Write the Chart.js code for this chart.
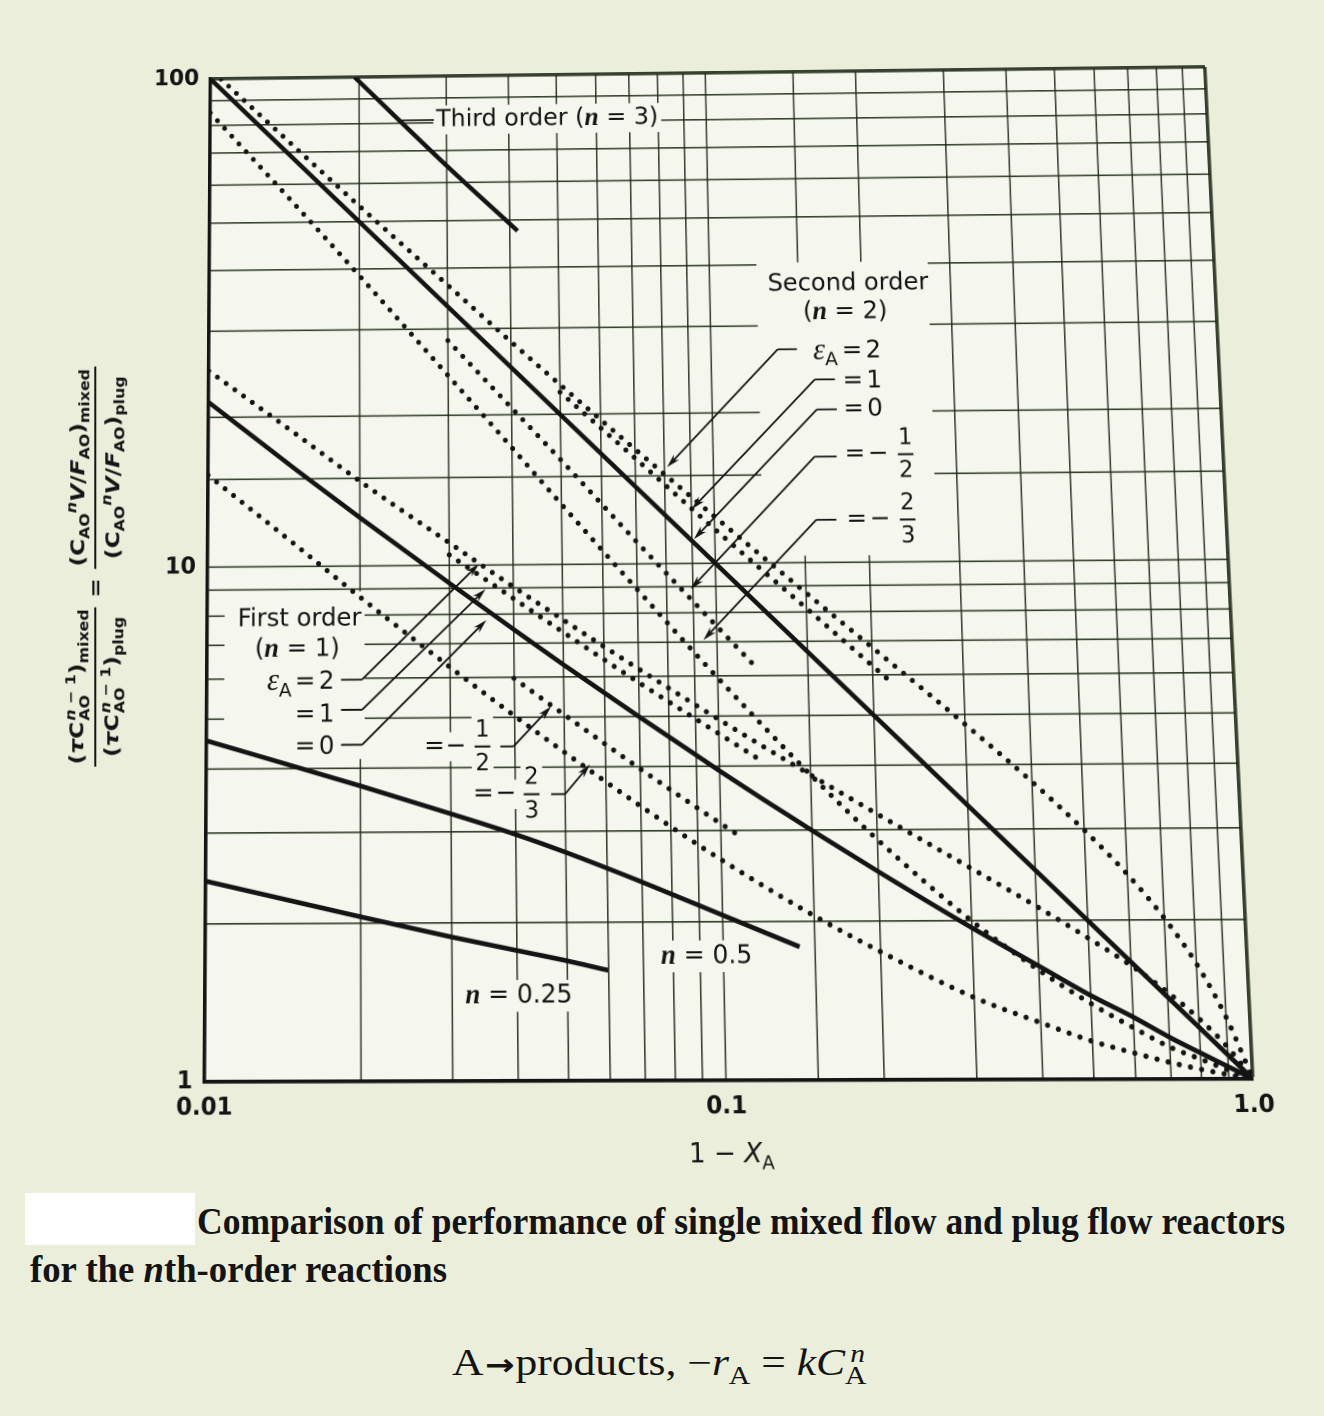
<!DOCTYPE html>
<html>
<head>
<meta charset="utf-8">
<script src="https://cdn.jsdelivr.net/npm/chart.js@4.4.1/dist/chart.umd.min.js"></script>
<style>
  html, body { margin: 0; padding: 0; }
  body { width: 1324px; height: 1416px; background: #eaeedb; position: relative; overflow: hidden; }
  #plot { position: absolute; left: 0; top: 0; transform-origin: 0 0; }
  #ytitle { position: absolute; white-space: nowrap;
            font: bold 20px "DejaVu Sans", "Liberation Sans", sans-serif; color: #141414;
            display: flex; align-items: center; gap: 8px; }
  .fr { display: inline-flex; flex-direction: column; align-items: center; }
  .nu { border-bottom: 2.5px solid #141414; padding: 0 2px 2px; }
  .de { padding: 2px 2px 0; }
  .ss { display: inline-flex; flex-direction: column; vertical-align: middle; font-size: 0.68em; line-height: 1.05; margin-left: 1px; }
  sub, sup { font-size: 0.68em; }
  .cap { position: absolute; white-space: nowrap; transform-origin: 0 50%;
         font: bold 37px "Liberation Serif", "Times New Roman", serif; color: #141414; line-height: 1; }
  #eqn { position: absolute; white-space: nowrap; transform-origin: 0 50%;
         font: 37px "Liberation Serif", "Times New Roman", serif; color: #141414; line-height: 1; }
  #eqn .arr { font: bold 30px "DejaVu Sans", sans-serif; margin: 0 1px; }
  #blank { position: absolute; left: 25px; top: 1193px; width: 170px; height: 52px; background: #ffffff; }
</style>
</head>
<body>
<canvas id="plot" width="1324" height="1180"></canvas>

<div id="ytitle">
  <span class="fr">
    <span class="nu">(<i>τ</i>C<span class="ss"><span><i>n</i> − 1</span><span>AO</span></span>)<sub>mixed</sub></span>
    <span class="de">(<i>τ</i>C<span class="ss"><span><i>n</i> − 1</span><span>AO</span></span>)<sub>plug</sub></span>
  </span>
  <span>=</span>
  <span class="fr">
    <span class="nu">(C<sub>AO</sub><sup><i>n</i></sup><i>V</i>/<i>F</i><sub>AO</sub>)<sub>mixed</sub></span>
    <span class="de">(C<sub>AO</sub><sup><i>n</i></sup><i>V</i>/<i>F</i><sub>AO</sub>)<sub>plug</sub></span>
  </span>
</div>

<div id="blank"></div>
<div class="cap" id="cap1" style="left:197px; top:1203px;">Comparison of performance of single mixed flow and plug flow reactors</div>
<div class="cap" id="cap2" style="left:30px; top:1251px;">for the <i>n</i>th-order reactions</div>
<div id="eqn" style="left:452px; top:1341px;">A<span class="arr">→</span>products, −<i>r</i><sub>A</sub> = <i>kC</i><sub>A</sub><sup style="margin-left:-0.55em"><i>n</i></sup></div>

<script>
// ---- values: 1 − X_A and the volume ratio for each reaction order / expansion factor ----
const N = null;
const oneMinusXA = [0.01, 0.0105, 0.015, 0.02, 0.03, 0.04, 0.05, 0.06, 0.07, 0.1, 0.11, 0.12,
                    0.14, 0.15, 0.2, 0.22, 0.3, 0.4, 0.5, 0.6, 0.7, 0.8, 0.9, 1.0];

const firstOrderEps0   = [21.5, N, 15.6, 12.5, 9.22, 7.46, 6.34, N, 5.00, 3.91, N, 3.46, N, 2.99, 2.49, N, 1.94, 1.64, 1.44, 1.31, 1.20, 1.12, 1.055, 1.0];
const firstOrderEps2   = [24.9, N, 18.4, 14.8, 11.1, 9.06, 7.78, N, 6.21, 4.93, N, N, N, 3.83, 3.22, N, 2.53, 2.13, 1.85, 1.64, 1.46, 1.30, 1.15, 1.0];
const firstOrderEps1   = [N, N, N, N, 10.5, 8.59, 7.35, N, 5.84, 4.62, N, 4.10, N, N, N, N, N, N, N, N, N, N, N, N];
const firstOrderEpsM12 = [N, N, N, N, N, 5.97, 5.06, N, 3.96, 3.09, 2.90, N, N, N, N, N, N, N, N, N, N, N, N, N];
const firstOrderEpsM23 = [15.3, N, 11.0, 8.68, 6.29, 5.04, 4.27, N, 3.35, 2.63, N, N, N, 2.05, 1.75, N, 1.43, 1.28, 1.18, 1.12, 1.075, 1.043, 1.019, 1.0];

const secondOrderEps0   = [100, N, N, N, N, N, N, N, N, N, N, N, N, N, N, N, N, N, N, N, N, N, N, 1.0];
const secondOrderEps2   = [N, 99.9, 70.9, 53.9, 36.9, 28.2, 23.0, N, 17.0, 12.4, N, N, N, 8.71, 6.80, N, 4.79, 3.70, 2.98, 2.45, 2.02, 1.65, 1.31, 1.0];
const secondOrderEps1   = [N, N, N, N, N, N, 22.2, N, 16.3, 11.7, N, N, N, 8.12, 6.25, 5.73, N, N, N, N, N, N, N, N];
const secondOrderEpsM12 = [N, N, N, N, 28.4, 20.7, 16.2, N, 11.1, 7.51, N, 6.16, N, N, N, N, N, N, N, N, N, N, N, N];
const secondOrderEpsM23 = [84.9, N, 53.8, 38.7, 24.1, 17.2, 13.2, N, 8.92, 5.94, N, N, N, 3.83, 2.87, N, 2.00, 1.61, 1.39, 1.25, 1.15, 1.09, 1.04, 1.0];

const halfOrder    = [4.54, N, N, 3.69, 3.25, 2.96, 2.73, N, 2.39, 2.06, N, N, 1.79, N, N, N, N, N, N, N, N, N, N, N];
const quarterOrder = [2.42, N, N, 2.06, 1.88, 1.77, 1.69, 1.62, N, N, N, N, N, N, N, N, N, N, N, N, N, N, N, N];

const thirdOrderX = [0.0196, 0.03, 0.0415];
const thirdOrderY = [100, 65, 47.5];

const xTickValues = [0.01, 0.1, 1];
const xTickText   = ['0.01', '0.1', '1.0'];
const yTickValues = [1, 10, 100];
const yTickText   = ['1', '10', '100'];

// ---- styling ----
const PLOT_BG = '#f5f7ee';
const INK = '#141414';
const GRID = 'rgba(30,40,22,0.88)';
const SANS = '"DejaVu Sans", "Liberation Sans", sans-serif';
const SERIF = '"Liberation Serif", "Times New Roman", serif';

const seriesXY = (xs, ys) => xs.map((x, i) => ({ x, y: ys[i] })).filter(p => p.y !== null);
const series = (ys) => seriesXY(oneMinusXA, ys);
const solid = (data) => ({ data, borderColor: INK, borderWidth: 4.6, pointRadius: 0,
                           fill: false, cubicInterpolationMode: 'monotone' });
const dotted = (data) => ({ data, borderColor: INK, borderWidth: 5.2, pointRadius: 0,
                            fill: false, cubicInterpolationMode: 'monotone',
                            borderDash: [0, 11.2], borderCapStyle: 'round' });

const near = (v, t) => Math.abs(Math.log10(v) - Math.log10(t)) < 1e-6;
function tickText(values, texts) {
  return (v) => {
    const i = values.findIndex(t => near(v, t));
    return i >= 0 ? texts[i] : '';
  };
}

// ---- annotation helpers ----
const sans = (t, s = 25, dy = 0) => ({ t, f: `${s}px ${SANS}`, s, dy });
const nItal = (s = 27, dy = 0) => ({ t: 'n', f: `bold italic ${s}px ${SERIF}`, s, dy });
const eps = (s = 31) => ({ t: 'ε', f: `italic ${s}px ${SERIF}`, s, dy: -1 });
const subA = (s = 19, dy = 9) => ({ t: 'A', f: `${s}px ${SANS}`, s, dy });

function rich(ctx, mode, parts, x, y, align, pad = 3) {
  let w = 0;
  for (const p of parts) { ctx.font = p.f; p.w = ctx.measureText(p.t).width; w += p.w; }
  let x0 = align === 'center' ? x - w / 2 : align === 'right' ? x - w : x;
  if (mode === 'mask') {
    let top = Infinity, bot = -Infinity;
    for (const p of parts) { top = Math.min(top, y + p.dy - p.s * 0.45); bot = Math.max(bot, y + p.dy + p.s * 0.45); }
    ctx.fillRect(x0 - pad, top - pad, w + 2 * pad, bot - top + 2 * pad);
  } else {
    for (const p of parts) { ctx.font = p.f; ctx.fillText(p.t, x0, y + p.dy); x0 += p.w; }
  }
  return w;
}
function fraction(ctx, mode, fx, y, a, b) {
  if (mode === 'mask') { ctx.fillRect(fx - 11, y - 31, 22, 62); return; }
  ctx.font = `23px ${SANS}`; ctx.textAlign = 'center';
  ctx.fillText(a, fx, y - 16); ctx.fillText(b, fx, y + 17);
  ctx.textAlign = 'left';
  ctx.lineWidth = 2; ctx.beginPath(); ctx.moveTo(fx - 8, y); ctx.lineTo(fx + 8, y); ctx.stroke();
  ctx.lineWidth = 1.8;
}
function arrow(ctx, x1, y1, x2, y2) {
  const a = Math.atan2(y2 - y1, x2 - x1), L = 14, W = 3.8;
  ctx.beginPath(); ctx.moveTo(x1, y1);
  ctx.lineTo(x2 - Math.cos(a) * L * 0.7, y2 - Math.sin(a) * L * 0.7); ctx.stroke();
  ctx.beginPath(); ctx.moveTo(x2, y2);
  ctx.lineTo(x2 - L * Math.cos(a) + W * Math.sin(a), y2 - L * Math.sin(a) - W * Math.cos(a));
  ctx.lineTo(x2 - L * 0.7 * Math.cos(a), y2 - L * 0.7 * Math.sin(a));
  ctx.lineTo(x2 - L * Math.cos(a) - W * Math.sin(a), y2 - L * Math.sin(a) + W * Math.cos(a));
  ctx.closePath(); ctx.fill();
}
function leader(ctx, X, Y, hx1, hx2, hy, fromLeft, tip) {
  ctx.beginPath(); ctx.moveTo(X(hx1), Y(hy)); ctx.lineTo(X(hx2), Y(hy)); ctx.stroke();
  const sx = fromLeft ? X(hx1) : X(hx2);
  arrow(ctx, sx, Y(hy), X(tip[0]), Y(tip[1]));
}

function drawNotes(chart, mode) {
  const ctx = chart.ctx;
  const X = v => chart.scales.x.getPixelForValue(v);
  const Y = v => chart.scales.y.getPixelForValue(v);
  ctx.save();
  ctx.textBaseline = 'middle'; ctx.textAlign = 'left';
  ctx.fillStyle = mode === 'mask' ? PLOT_BG : INK;
  ctx.strokeStyle = INK; ctx.lineWidth = 1.8;

  if (mode === 'mask') {
    ctx.fillRect(X(0.124), Y(40.35), X(0.2713) - X(0.124), Y(10.33) - Y(40.35));
    ctx.fillRect(X(0.01082), Y(8.91), X(0.0204) - X(0.01082), Y(4.165) - Y(8.91));
  }

  // third order
  rich(ctx, mode, [sans('Third order ('), nItal(), sans(' = 3)')], X(0.0286), Y(81), 'left');
  if (mode === 'ink') { ctx.beginPath(); ctx.moveTo(X(0.0241), Y(81)); ctx.lineTo(X(0.0283), Y(81)); ctx.stroke(); }

  // second order block
  rich(ctx, mode, [sans('Second order')], X(0.188), Y(36.4), 'center');
  rich(ctx, mode, [sans('('), nItal(), sans(' = 2)')], X(0.185), Y(31.9), 'center');
  const e2 = X(0.19);
  rich(ctx, mode, [eps(), subA()], e2 - 15, Y(26.5), 'right');
  rich(ctx, mode, [sans('=')], e2, Y(26.5), 'center');
  rich(ctx, mode, [sans('2')], e2 + 14, Y(26.5), 'left');
  rich(ctx, mode, [sans('=')], e2, Y(23.06), 'center');
  rich(ctx, mode, [sans('1')], e2 + 14, Y(23.06), 'left');
  rich(ctx, mode, [sans('=')], e2, Y(20.23), 'center');
  rich(ctx, mode, [sans('0')], e2 + 14, Y(20.23), 'left');
  rich(ctx, mode, [sans('=')], e2, Y(16.41), 'center');
  rich(ctx, mode, [sans('−')], e2 + 24, Y(16.41), 'center');
  fraction(ctx, mode, e2 + 52, Y(16.41), '1', '2');
  rich(ctx, mode, [sans('=')], e2, Y(12.15), 'center');
  rich(ctx, mode, [sans('−')], e2 + 24, Y(12.15), 'center');
  fraction(ctx, mode, e2 + 52, Y(12.15), '2', '3');
  if (mode === 'ink') {
    leader(ctx, X, Y, 0.1354, 0.1478, 26.85, true, [0.081, 15.6]);
    leader(ctx, X, Y, 0.1598, 0.1751, 23.29, true, [0.0903, 12.85]);
    leader(ctx, X, Y, 0.1607, 0.1760, 20.26, true, [0.0909, 11.19]);
    leader(ctx, X, Y, 0.1582, 0.1748, 16.28, true, [0.0892, 8.91]);
    leader(ctx, X, Y, 0.1582, 0.1733, 12.17, true, [0.094, 7.06]);
  }

  // first order block
  rich(ctx, mode, [sans('First order')], X(0.0152), Y(7.86), 'center');
  rich(ctx, mode, [sans('('), nItal(), sans(' = 1)')], X(0.01505), Y(6.85), 'center');
  const e1 = X(0.0156);
  rich(ctx, mode, [eps(), subA()], e1 - 14, Y(5.90), 'right');
  rich(ctx, mode, [sans('=')], e1, Y(5.90), 'center');
  rich(ctx, mode, [sans('2')], e1 + 14, Y(5.90), 'left');
  rich(ctx, mode, [sans('=')], e1, Y(5.08), 'center');
  rich(ctx, mode, [sans('1')], e1 + 14, Y(5.08), 'left');
  rich(ctx, mode, [sans('=')], e1, Y(4.40), 'center');
  rich(ctx, mode, [sans('0')], e1 + 14, Y(4.40), 'left');
  const h1 = X(0.0279);
  rich(ctx, mode, [sans('=')], h1, Y(4.39), 'center');
  rich(ctx, mode, [sans('−')], h1 + 22, Y(4.39), 'center');
  fraction(ctx, mode, h1 + 49, Y(4.39), '1', '2');
  const t1 = X(0.0347);
  rich(ctx, mode, [sans('=')], t1, Y(3.54), 'center');
  rich(ctx, mode, [sans('−')], t1 + 23, Y(3.54), 'center');
  fraction(ctx, mode, t1 + 49, Y(3.54), '2', '3');
  if (mode === 'ink') {
    leader(ctx, X, Y, 0.01834, 0.02016, 5.96, false, [0.0343, 10.06]);
    leader(ctx, X, Y, 0.01834, 0.02016, 5.20, false, [0.0353, 8.96]);
    leader(ctx, X, Y, 0.01834, 0.02016, 4.44, false, [0.0354, 7.78]);
    leader(ctx, X, Y, 0.0375, 0.0398, 4.39, false, [0.0472, 5.25]);
    leader(ctx, X, Y, 0.047, 0.050, 3.54, false, [0.056, 4.04]);
  }

  // fractional orders
  rich(ctx, mode, [nItal(), sans(' = 0.5')], X(0.0927), Y(1.72), 'center');
  rich(ctx, mode, [nItal(), sans(' = 0.25')], X(0.0403), Y(1.45), 'center');
  ctx.restore();
}

const notesPlugin = {
  id: 'notes',
  beforeDraw(chart) {
    const a = chart.chartArea, ctx = chart.ctx;
    ctx.save(); ctx.fillStyle = PLOT_BG; ctx.fillRect(a.left, a.top, a.right - a.left, a.bottom - a.top); ctx.restore();
  },
  beforeDatasetsDraw(chart) { drawNotes(chart, 'mask'); },
  afterDatasetsDraw(chart) { drawNotes(chart, 'ink'); },
  afterDraw(chart) {
    const ctx = chart.ctx, a = chart.chartArea;
    ctx.save(); ctx.fillStyle = INK; ctx.textBaseline = 'middle';
    rich(ctx, 'ink', [sans('1 − ', 26), { t: 'X', f: `italic 26px ${SANS}`, s: 26, dy: 0 }, sans('A', 18, 9)],
         chart.scales.x.getPixelForValue(0.1) + 4, a.bottom + 70, 'center');
    ctx.restore();
  }
};

const chart = new Chart(document.getElementById('plot'), {
  type: 'line',
  data: {
    datasets: [
      solid(seriesXY(thirdOrderX, thirdOrderY)),
      solid(series(secondOrderEps0)),
      dotted(series(secondOrderEps2)),
      dotted(series(secondOrderEps1)),
      dotted(series(secondOrderEpsM12)),
      dotted(series(secondOrderEpsM23)),
      solid(series(firstOrderEps0)),
      dotted(series(firstOrderEps2)),
      dotted(series(firstOrderEps1)),
      dotted(series(firstOrderEpsM12)),
      dotted(series(firstOrderEpsM23)),
      solid(series(halfOrder)),
      solid(series(quarterOrder))
    ]
  },
  options: {
    responsive: false,
    animation: false,
    devicePixelRatio: 2,
    layout: { padding: { left: 0, top: 79, right: 71, bottom: 0 } },
    plugins: { legend: { display: false }, tooltip: { enabled: false } },
    elements: { point: { radius: 0 } },
    scales: {
      x: {
        type: 'logarithmic', min: 0.01, max: 1,
        afterFit: (s) => { s.height = 98; },
        grid: { color: GRID, drawTicks: false, lineWidth: (c) => (c.tick && near(c.tick.value, 1) ? 3.6 : 1.6) },
        border: { display: true, color: INK, width: 3.6 },
        ticks: { autoSkip: false, maxRotation: 0, padding: 11, color: INK,
                 font: { family: SANS, size: 23, weight: 'bold' }, callback: tickText(xTickValues, xTickText) }
      },
      y: {
        type: 'logarithmic', min: 1, max: 100,
        afterFit: (s) => { s.width = 208; },
        grid: { color: GRID, drawTicks: false, lineWidth: (c) => (c.tick && near(c.tick.value, 100) ? 3.6 : 1.6) },
        border: { display: true, color: INK, width: 3.6 },
        ticks: { autoSkip: false, padding: 12, color: INK,
                 font: { family: SANS, size: 23, weight: 'bold' }, callback: tickText(yTickValues, yTickText) }
      }
    }
  },
  plugins: [notesPlugin]
});

// ---- perspective of the printed page: map the plot rectangle onto its quadrilateral ----
function homography(src, dst) {
  const A = [], b = [];
  for (let i = 0; i < 4; i++) {
    const [x, y] = src[i], [u, v] = dst[i];
    A.push([x, y, 1, 0, 0, 0, -u * x, -u * y]); b.push(u);
    A.push([0, 0, 0, x, y, 1, -v * x, -v * y]); b.push(v);
  }
  for (let c = 0; c < 8; c++) {
    let p = c;
    for (let r = c + 1; r < 8; r++) if (Math.abs(A[r][c]) > Math.abs(A[p][c])) p = r;
    [A[c], A[p]] = [A[p], A[c]]; [b[c], b[p]] = [b[p], b[c]];
    for (let r = 0; r < 8; r++) {
      if (r === c) continue;
      const f = A[r][c] / A[c][c];
      for (let k = c; k < 8; k++) A[r][k] -= f * A[c][k];
      b[r] -= f * b[c];
    }
  }
  return b.map((v, i) => v / A[i][i]);
}
const area = chart.chartArea;
const src = [[area.left, area.top], [area.right, area.top], [area.right, area.bottom], [area.left, area.bottom]];
const dst = [[210.5, 79], [1205, 67], [1253, 1079], [204.5, 1082]];
const H = homography(src, dst);
document.getElementById('plot').style.transform =
  `matrix3d(${H[0]},${H[3]},0,${H[6]},${H[1]},${H[4]},0,${H[7]},0,0,1,0,${H[2]},${H[5]},0,1)`;

// axis title block, rotated and stretched to its printed length
const yt = document.getElementById('ytitle');
const ytw = yt.getBoundingClientRect().width, yth = yt.getBoundingClientRect().height;
yt.style.left = (95 - ytw / 2) + 'px';
yt.style.top = (567 - yth / 2) + 'px';
yt.style.transform = `rotate(-90deg) scaleX(${400 / ytw})`;

// caption lines set to their printed widths
function fitWidth(id, w) {
  const el = document.getElementById(id);
  el.style.transform = `scaleX(${w / el.getBoundingClientRect().width})`;
}
fitWidth('cap1', 1088);
fitWidth('cap2', 417);
fitWidth('eqn', 413);
</script>
</body>
</html>
